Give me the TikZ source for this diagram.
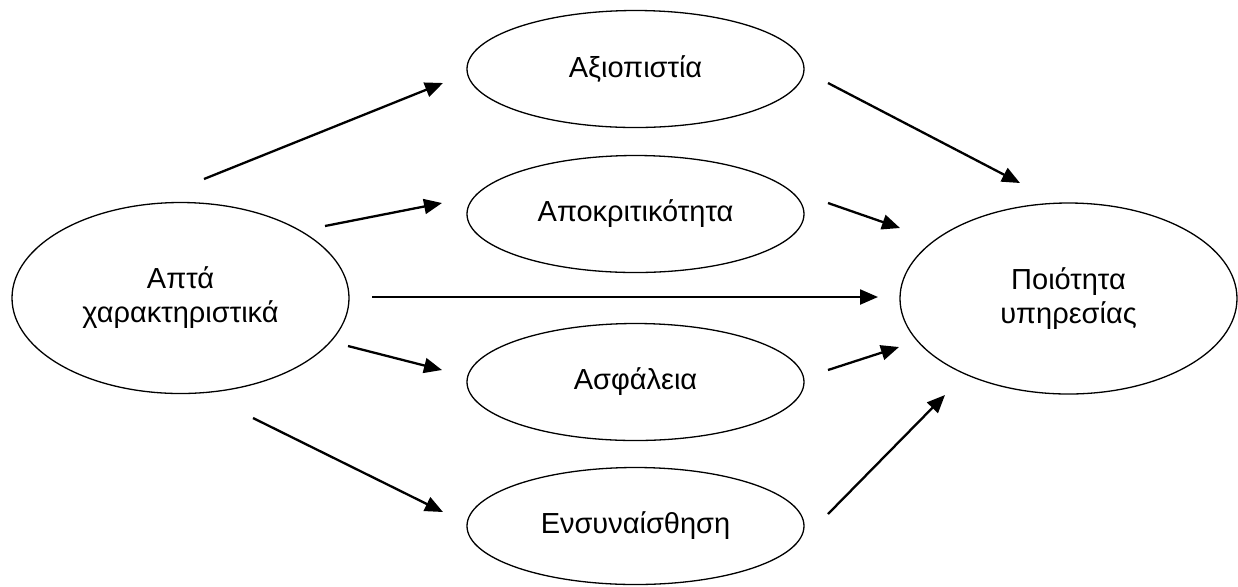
\documentclass[tikz,border=0pt]{standalone}
\usepackage{fontspec}
\setmainfont{Liberation Sans}
\usetikzlibrary{shapes.geometric,arrows.meta}
\begin{document}
\begin{tikzpicture}[x=0.5pt,y=-0.5pt,
  oval/.style={draw,ellipse,line width=0.65pt,inner sep=0pt,align=center,
    font=\fontsize{14.5}{17}\selectfont},
  bigoval/.style={oval,minimum width=168.5pt,minimum height=95.5pt},
  midoval/.style={oval,minimum width=168.5pt,minimum height=58.5pt},
  arr/.style={line width=1.15pt,-{Triangle[length=9pt,width=7.5pt]}}]
\useasboundingbox (0,0) rectangle (1238,586);
\node[bigoval] (L) at (180.5,298) {Απτά\\χαρακτηριστικά};
\node[bigoval] (R) at (1068.5,298.5) {Ποιότητα\\υπηρεσίας};
\node[midoval] (M1) at (635.5,69) {Αξιοπιστία};
\node[midoval] (M2) at (635.5,214) {Αποκριτικότητα};
\node[midoval] (M3) at (635.5,382) {Ασφάλεια};
\node[midoval] (M4) at (635.5,526) {Ενσυναίσθηση};
% arrow end points (free-standing arrows)
\coordinate (l1s) at (204,179);  \coordinate (l1e) at (443,83);
\coordinate (l2s) at (325,226);  \coordinate (l2e) at (442,203);
\coordinate (l0s) at (372,297);  \coordinate (l0e) at (878,297);
\coordinate (l3s) at (348,346);  \coordinate (l3e) at (442,370);
\coordinate (l4s) at (253,418);  \coordinate (l4e) at (443,512);
\coordinate (r1s) at (828,83);   \coordinate (r1e) at (1020,183);
\coordinate (r2s) at (828,203);  \coordinate (r2e) at (900,228);
\coordinate (r3s) at (828,370);  \coordinate (r3e) at (899,347);
\coordinate (r4s) at (828,514);  \coordinate (r4e) at (945,395);
\draw[arr] (l1s) -- (l1e);
\draw[arr] (l2s) -- (l2e);
\draw[arr] (l0s) -- (l0e);
\draw[arr] (l3s) -- (l3e);
\draw[arr] (l4s) -- (l4e);
\draw[arr] (r1s) -- (r1e);
\draw[arr] (r2s) -- (r2e);
\draw[arr] (r3s) -- (r3e);
\draw[arr] (r4s) -- (r4e);
\end{tikzpicture}
\end{document}
